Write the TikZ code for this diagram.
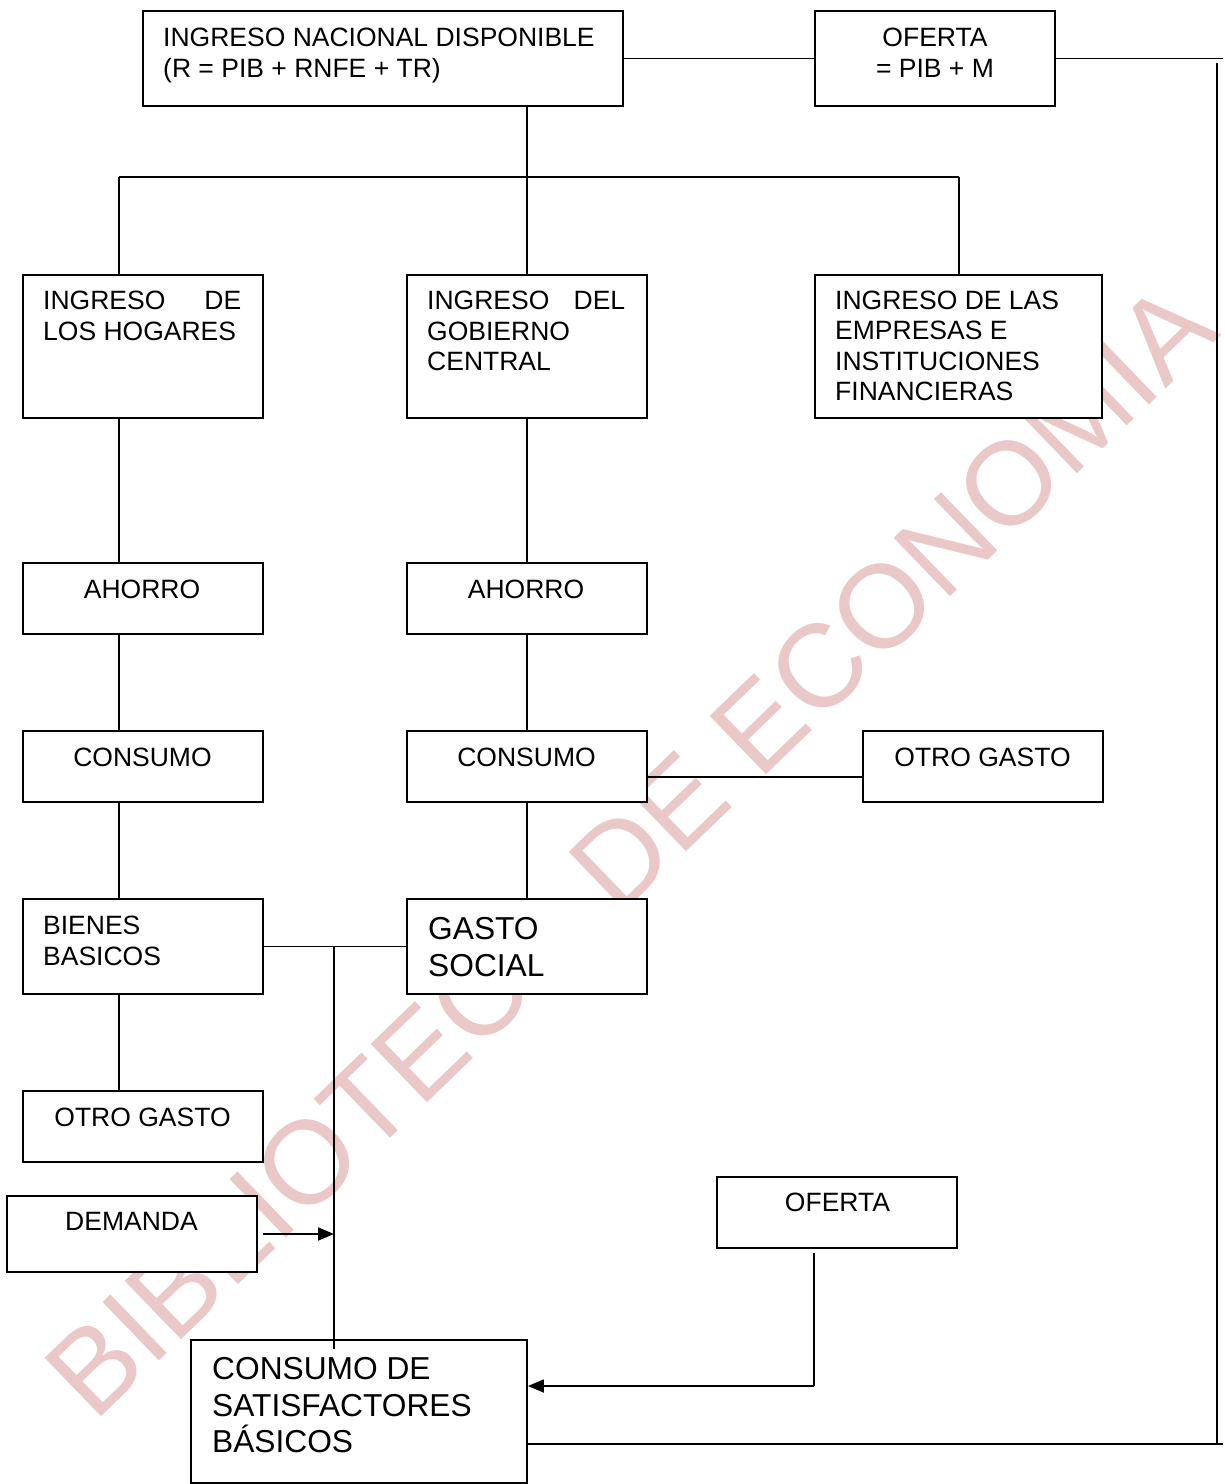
\documentclass[tikz,border=0pt]{standalone}
\usepackage{fontspec}
\setmainfont{Liberation Sans}
\usetikzlibrary{arrows.meta}
\definecolor{wm}{RGB}{235,200,200}
\tikzset{
 box/.style={draw, fill=white, line width=1.8pt, inner sep=0pt},
 conn/.style={line width=1.8pt},
 txt/.style={inner sep=0pt, font=\fontsize{26.5}{30.6}\selectfont, align=left},
 ctxt/.style={inner sep=0pt, font=\fontsize{26.5}{30.6}\selectfont, align=center},
 bigtxt/.style={inner sep=0pt, font=\fontsize{31.7}{36.6}\selectfont, align=left},
 arr/.style={conn, -{Triangle[length=16pt,width=13pt]}},
 wmark/.style={text=wm, inner sep=0pt, font=\fontsize{118}{120}\selectfont, rotate=44}
}
\newcommand\mkbox[5]{\node[box, minimum width={#4-#2}, minimum height={#5-#3}] (#1) at ({(#2+#4)/2},{(#3+#5)/2}) {};}
\begin{document}
\begin{tikzpicture}[x=1pt,y=-1pt]
\useasboundingbox (0,0) rectangle (1225,1484);
\node[wmark] (wmk) at (630,850) {BIBLIOTECA DE ECONOMIA};
% boxes
\mkbox{nat}{143}{11}{623}{106}
\mkbox{of1}{815}{11}{1055}{106}
\mkbox{hog}{23}{275}{263}{418}
\mkbox{gob}{407}{275}{647}{418}
\mkbox{emp}{815}{275}{1102}{418}
\mkbox{ah1}{23}{563}{263}{634}
\mkbox{ah2}{407}{563}{647}{634}
\mkbox{co1}{23}{731}{263}{802}
\mkbox{co2}{407}{731}{647}{802}
\mkbox{og2}{863}{731}{1103}{802}
\mkbox{bie}{23}{899}{263}{994}
\mkbox{gs}{407}{899}{647}{994}
\mkbox{og1}{23}{1091}{263}{1162}
\mkbox{dem}{7}{1196}{257}{1272}
\mkbox{of2}{717}{1177}{957}{1248}
\mkbox{cs}{191}{1340}{527}{1483}
% texts (anchor = baseline of last line)
\node[txt, anchor=base west] (tnat) at (163,77.1) {INGRESO NACIONAL DISPONIBLE\\(R = PIB + RNFE + TR)};
\node[ctxt, anchor=base] (tof1) at (935,77.1) {OFERTA\\= PIB + M};
\node[txt, anchor=base west] (thog) at (43,340.1) {\makebox[198pt][s]{INGRESO\hfill DE}\\LOS HOGARES};
\node[txt, anchor=base west] (tgob) at (427,370.7) {\makebox[198pt][s]{INGRESO\hfill DEL}\\GOBIERNO\\CENTRAL};
\node[txt, anchor=base west] (temp) at (835,400.8) {INGRESO DE LAS\\EMPRESAS E\\INSTITUCIONES\\FINANCIERAS};
\node[ctxt, anchor=base] (tah1) at (142,598.5) {AHORRO};
\node[ctxt, anchor=base] (tah2) at (526,598.5) {AHORRO};
\node[ctxt, anchor=base] (tco1) at (142.5,766.5) {CONSUMO};
\node[ctxt, anchor=base] (tco2) at (526.5,766.5) {CONSUMO};
\node[ctxt, anchor=base] (tog2) at (982.5,766.5) {OTRO GASTO};
\node[txt, anchor=base west] (tbie) at (43,965.1) {BIENES\\BASICOS};
\node[bigtxt, anchor=base west] (tgs) at (428,976.1) {GASTO\\SOCIAL};
\node[ctxt, anchor=base] (tog1) at (142.5,1126.5) {OTRO GASTO};
\node[ctxt, anchor=base] (tdem) at (131.5,1230.5) {DEMANDA};
\node[ctxt, anchor=base] (tof2) at (837.5,1211.5) {OFERTA};
\node[bigtxt, anchor=base west] (tcs) at (212,1452.7) {CONSUMO DE\\SATISFACTORES\\BÁSICOS};
% coordinates
\coordinate (j0) at (527,177);
\coordinate (jl) at (119,177);
\coordinate (jr) at (959,177);
\coordinate (tr1) at (1223,58.5);
\coordinate (rv1) at (1217,63);
\coordinate (rv2) at (1217,1444);
\coordinate (br) at (1223,1444);
\coordinate (hy) at (0,777);
\coordinate (jd) at (334,946.5);
\coordinate (cse) at (334,1349);
\coordinate (ov) at (814,1253);
\coordinate (oc) at (814,1386);
% connectors
\draw[conn] (nat.east) -- (of1.west);
\draw[conn] (of1.east) -- (tr1);
\draw[conn] (rv1) -- (rv2);
\draw[conn] (cs.east |- br) -- (br);
\draw[conn] (j0 |- nat.south) -- (j0);
\draw[conn] (jl) -- (jr);
\draw[conn] (jl) -- (jl |- hog.north);
\draw[conn] (j0) -- (gob.north);
\draw[conn] (jr) -- (jr |- emp.north);
\draw[conn] (jl |- hog.south) -- (jl |- ah1.north);
\draw[conn] (jl |- ah1.south) -- (jl |- co1.north);
\draw[conn] (jl |- co1.south) -- (jl |- bie.north);
\draw[conn] (jl |- bie.south) -- (jl |- og1.north);
\draw[conn] (gob.south) -- (ah2.north);
\draw[conn] (ah2.south) -- (co2.north);
\draw[conn] (co2.south) -- (gs.north);
\draw[conn] (co2.east |- hy) -- (og2.west |- hy);
\draw[conn] (bie.east) -- (gs.west);
\draw[conn] (jd) -- (cse);
\draw[arr] ([xshift=5pt]dem.east) -- (dem.east -| jd);
\draw[conn] (ov) -- (oc);
\draw[arr] (oc) -- (oc -| cs.east);
\end{tikzpicture}
\end{document}
